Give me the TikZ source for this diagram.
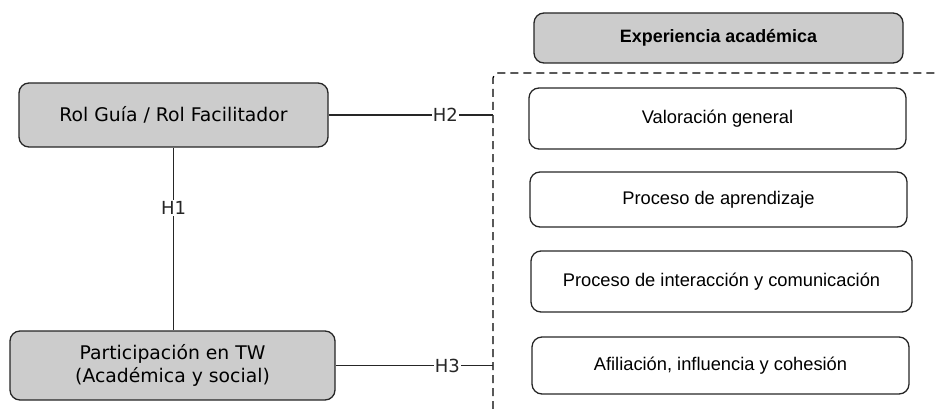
\documentclass[tikz,border=0pt]{standalone}
\usepackage{fontspec}
\setmainfont{Liberation Sans}
\newfontfamily\verd{DejaVu Sans}
\usepackage{tikz}

\tikzset{
	caja/.style={draw=black!85, line width=1.3pt, rounded corners=10pt, inner sep=0pt, align=center},
	gris/.style={caja, fill=black!20},
	hip/.style={fill=white, inner sep=1pt, font=\verd\fontsize{18}{20}\selectfont}
}

\begin{document}
\begin{tikzpicture}[x=1pt, y=-1pt]
				\useasboundingbox (0,0) rectangle (936,409);
				% variables de la izquierda
				\node[gris, minimum width=309pt, minimum height=64pt, font=\verd\fontsize{18.8}{23}\selectfont] (rol) at (173.5,115) {Rol Guía / Rol Facilitador};
				\node[gris, minimum width=325pt, minimum height=69pt, font=\verd\fontsize{18.8}{23}\selectfont] (part) at (172.5,365.5) {Participación en TW\\(Académica y social)};
				% experiencia academica
				\node[gris, minimum width=369pt, minimum height=50pt, font=\bfseries\fontsize{17.9}{20}\selectfont] (exp) at (718.5,38) {Experiencia académica};
				\node[caja, minimum width=377pt, minimum height=61pt, font=\fontsize{18.3}{20}\selectfont] (val) at (717.5,118.5) {Valoración general};
				\node[caja, minimum width=377pt, minimum height=55pt, font=\fontsize{18.3}{20}\selectfont] (apr) at (718.5,199.5) {Proceso de aprendizaje};
				\node[caja, minimum width=381pt, minimum height=61pt, font=\fontsize{18.3}{20}\selectfont] (int) at (721.5,281.5) {Proceso de interacción y comunicación};
				\node[caja, minimum width=377pt, minimum height=57pt, font=\fontsize{18.3}{20}\selectfont] (afi) at (720.5,365.5) {Afiliación, influencia y cohesión};
				% marco punteado
				\draw[line width=1.3pt, dash pattern=on 8pt off 5pt, rounded corners=5pt] (493,409) -- (493,73) -- (936,73);
				\coordinate (h2fin) at (493,115);
				\coordinate (h3fin) at (493,365.5);
				% hipotesis
				\draw[line width=1.3pt, black!85] (rol.south) -- (rol.south |- part.north) node[hip, pos=0.33] {H1};
				\draw[line width=1.3pt, black!85] (rol.east) -- (h2fin) node[hip, pos=0.71] {H2};
				\draw[line width=1.3pt, black!85] (part.east) -- (h3fin) node[hip, pos=0.71] {H3};
\end{tikzpicture}
\end{document}
